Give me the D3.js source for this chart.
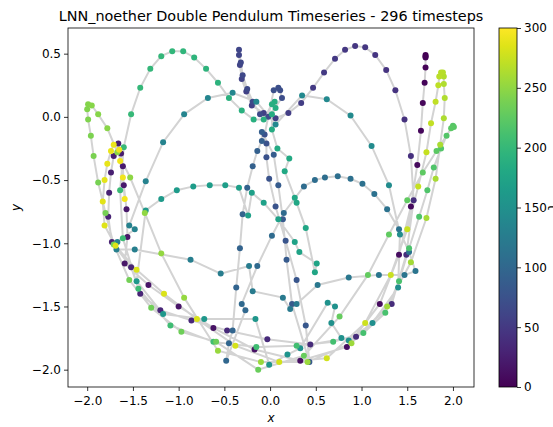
<!DOCTYPE html>
<html>
<head>
<meta charset="utf-8">
<script src="https://cdn.jsdelivr.net/npm/d3@7"></script>
<style>
  body { margin: 0; background: #fff; }
  text { font-family: 'DejaVu Sans', sans-serif; }
</style>
</head>
<body>
<script>
const title = 'LNN_noether Double Pendulum Timeseries - 296 timesteps';
const nSteps = 296;

// bob positions, in time order
const xs = [
  // first swings
  1.70, 1.70, 1.70, 1.70, 1.69, 1.67, 1.65, 1.61, 1.54, 1.41, 1.20, 0.84, 0.33, -0.17, -0.62, -1.00, -1.33,
  -1.59, -1.56, -1.57, -1.60, -1.61, -1.63, -1.66, -1.71, -1.74, -1.76, -1.77, -1.73, -1.52,
  -1.42, -1.20, -0.86, -0.47, -0.03, 0.44, 0.94, 1.33, 1.49, 1.57, 1.54, 1.47, 1.37, 1.27, 1.15, 1.04,
  0.93, 0.82, 0.71, 0.59, 0.47, 0.34, 0.20, 0.06, -0.07, -0.20, -0.26, -0.31, -0.33, -0.34, -0.34,
  -0.32, -0.30, -0.25, -0.19, -0.11, -0.02,
  // centre drops
  0.13, 0.11, 0.09, 0.04,
  -0.06, -0.04, -0.04, -0.01, 0.06, 0.17, 0.29, 0.39, 0.43,
  0.24, 0.18, 0.14, 0.09, 0.04, -0.09, -0.09, -0.14, -0.19, -0.25, -0.30, -0.33, -0.37, -0.41, -0.45, -0.48,
  -0.27, -0.31, -0.14, 0.02, 0.15, 0.37, 0.49, 0.60, 0.74, 0.88, 1.01, 1.14, 1.28, 1.41, 1.52, 1.59,
  1.47, 1.19, 0.86, 0.52, 0.29, 0.22, 0.14, -0.19, -0.23,
  // teal loops
  -0.54, -0.87, -1.48, -1.68, -1.67, -1.48, -1.54, -1.36, -1.17, -0.94, -0.68, -0.41, -0.15, 0.06,
  0.35, 0.62, 0.88, 1.11, 1.30, 1.42, 1.40, 1.12, 0.86, 0.78, 0.67, 0.71, 0.63,
  0.33, 0.19, -0.01, -0.16, -0.72, -1.17, -1.46, -1.36, -1.19, -1.02, -0.84, -0.66, -0.49, -0.34,
  -0.24, -0.20, -0.07, 0.09, 0.27, 0.32, 0.51, 0.49, 0.39, 0.29, 0.27, 0.16, 0.21,
  // centre, then top-left arc and big swings
  0.08, 0.02, 0.02, 0.06, 0.05, 0.02, -0.07,
  -0.18, -0.31, -0.45, -0.57, -0.70, -0.83, -0.95, -1.07, -1.19, -1.31, -1.42, -1.52, -1.60, -1.64,
  -1.61, -1.44, -1.09, -0.62, -0.15, 0.29, 0.69, 1.02, 1.26, 1.41, 1.52, 1.63, 1.72, 1.79, 1.87,
  1.93, 2.00,
  2.01, 1.98, 1.82, 1.67, 1.50, 1.30, 1.07, 0.76, 0.37, -0.13, -0.59, -0.97, -1.30, -1.54, -1.71,
  -1.80, -1.88, -1.93, -1.96, -1.99, -2.00,
  -1.99, -1.95, -1.88, -1.78, -1.67, -1.53, -1.37, -1.19, -0.94, -0.57, -0.10, 0.41, 0.89, 1.28,
  1.54, 1.71, 1.81, 1.86, 1.90, 1.91, 1.90, 1.90, 1.89, 1.87, 1.85, 1.84, 1.81, 1.76, 1.71, 1.62,
  1.50, 1.32, 1.04, 0.62, 0.10, -0.38, -0.80, -1.16, -1.46, -1.69, -1.81, -1.83, -1.81, -1.78,
  -1.74, -1.71, -1.65, -1.64, -1.61, -1.59
];
const ys = [
  0.49, 0.48, 0.47, 0.39, 0.27, 0.11, -0.11, -0.38, -0.71, -1.09, -1.48, -1.82, -1.93, -1.84, -1.67, -1.50, -1.33,
  -1.16, -0.95, -0.73, -0.54, -0.39, -0.29, -0.21, -0.31, -0.44, -0.60, -0.79, -0.99, -1.19,
  -1.40, -1.53, -1.61, -1.69, -1.76, -1.80, -1.74, -1.48, -1.09, -0.66, -0.31, -0.02, 0.21, 0.37, 0.49, 0.55,
  0.56, 0.53, 0.46, 0.35, 0.23, 0.11, 0.03, -0.01, 0.03, 0.09, 0.20, 0.30, 0.41, 0.49, 0.53,
  0.43, 0.33, 0.22, 0.12, 0.02, 0.00,
  0.15, 0.21, 0.23, 0.21,
  -0.14, -0.21, -0.32, -0.49, -0.71, -0.98, -1.29, -1.65, -1.94,
  -1.48, -1.13, -0.81, -0.54, -0.30, -0.12, -0.19, -0.27, -0.39, -0.56, -0.77, -1.04, -1.35, -1.69, -1.79, -1.93,
  -1.53, -1.48, -1.18, -0.94, -0.76, -0.55, -0.50, -0.48, -0.47, -0.49, -0.53, -0.61, -0.73, -0.89, -1.07, -1.22,
  -1.25, -1.25, -1.27, -1.33, -1.48, -1.52, -1.43, -1.38, -1.18,
  -1.24, -1.13, -1.05, -1.05, -0.99, -0.89, -0.86, -0.51, -0.20, 0.02, 0.15, 0.19, 0.12, -0.06,
  0.17, 0.14, 0.01, -0.23, -0.54, -0.93, -1.35, -1.63, -1.77, -1.75, -1.63, -1.50, -1.47,
  -1.83, -1.88, -1.96, -1.60, -1.60, -1.56, -1.30, -0.74, -0.65, -0.58, -0.55, -0.54, -0.54, -0.56,
  -0.78, -0.60, -0.68, -0.81, -0.99, -1.07, -1.16, -1.23, -0.88, -0.68, -0.64, -0.43, -0.33,
  -0.25, -0.10, 0.02, 0.07, 0.12, 0.10, -0.02,
  -0.02, 0.05, 0.15, 0.27, 0.38, 0.47, 0.52, 0.52, 0.48, 0.38, 0.23, 0.02, -0.24, -0.58,
  -0.96, -1.36, -1.65, -1.78, -1.82, -1.81, -1.78, -1.71, -1.55, -1.30, -1.04, -0.79, -0.58, -0.40, -0.25,
  -0.15, -0.07,
  -0.08, -0.09, -0.27, -0.44, -0.66, -0.93, -1.25, -1.58, -1.89, -2.00, -1.78, -1.70, -1.51, -1.29, -1.01,
  -0.76, -0.52, -0.31, -0.15, -0.02, 0.06,
  0.10, 0.09, 0.02, -0.09, -0.28, -0.48, -0.76, -1.08, -1.43, -1.85, -1.94, -1.94, -1.79, -1.50,
  -1.15, -0.80, -0.49, -0.22, -0.01, 0.15, 0.26, 0.32, 0.35, 0.35, 0.32, 0.25, 0.12, -0.05, -0.28, -0.55,
  -0.89, -1.25, -1.63, -1.91, -1.94, -1.81, -1.60, -1.40, -1.21, -1.02, -0.86, -0.67, -0.50, -0.37,
  -0.27, -0.22, -0.26, -0.35, -0.48, -0.65
];

const xTicks = [-2.0, -1.5, -1.0, -0.5, 0.0, 0.5, 1.0, 1.5, 2.0];
const yTicks = [0.5, 0.0, -0.5, -1.0, -1.5, -2.0];
const cTicks = [0, 50, 100, 150, 200, 250, 300];

const width = 553;
const height = 427;
const margin = { top: 28, right: 79, bottom: 40, left: 68 };
const fmt = d => d3.format('.1f')(d).replace('-', '\u2212');

const n = Math.min(xs.length, ys.length);
// the read points are spread over the 296 timesteps
const data = d3.range(n).map(i => ({ t: i * (nSteps - 1) / (n - 1), x: xs[i], y: ys[i] }));

const x = d3.scaleLinear()
  .domain([-2.21, 2.23])
  .range([margin.left, width - margin.right]);

const y = d3.scaleLinear()
  .domain([-2.137, 0.703])
  .range([height - margin.bottom, margin.top]);

const color = d3.scaleSequential(d3.interpolateViridis).domain([0, 300]);

const svg = d3.select('body').append('svg')
  .attr('width', width)
  .attr('height', height)
  .style('background', '#fff');

svg.append('defs').append('clipPath').attr('id', 'clip')
  .append('rect')
  .attr('x', margin.left).attr('y', margin.top)
  .attr('width', width - margin.right - margin.left)
  .attr('height', height - margin.bottom - margin.top);

const plot = svg.append('g').attr('clip-path', 'url(#clip)');

plot.append('path')
  .datum(data)
  .attr('fill', 'none')
  .attr('stroke', '#d3d3d3')
  .attr('stroke-width', 2)
  .attr('d', d3.line().x(d => x(d.x)).y(d => y(d.y)));

plot.selectAll('circle')
  .data(data)
  .join('circle')
  .attr('cx', d => x(d.x))
  .attr('cy', d => y(d.y))
  .attr('r', 3)
  .attr('fill', d => color(d.t));

// axes
const xAxis = svg.append('g')
  .attr('transform', `translate(0,${height - margin.bottom})`)
  .call(d3.axisBottom(x).tickValues(xTicks).tickFormat(fmt).tickSizeOuter(0).tickSize(4));

const yAxis = svg.append('g')
  .attr('transform', `translate(${margin.left},0)`)
  .call(d3.axisLeft(y).tickValues(yTicks).tickFormat(fmt).tickSizeOuter(0).tickSize(4));

[xAxis, yAxis].forEach(g => {
  g.select('.domain').remove();
  g.selectAll('text').attr('font-size', 12).attr('fill', '#000');
  g.selectAll('line').attr('stroke', '#000').attr('stroke-width', 0.8);
});
xAxis.selectAll('text').attr('dy', '0.95em');

svg.append('rect')
  .attr('x', margin.left).attr('y', margin.top)
  .attr('width', width - margin.right - margin.left)
  .attr('height', height - margin.bottom - margin.top)
  .attr('fill', 'none')
  .attr('stroke', '#000')
  .attr('stroke-width', 0.8);

svg.append('text')
  .attr('x', (margin.left + width - margin.right) / 2)
  .attr('y', 21)
  .attr('text-anchor', 'middle')
  .attr('font-size', 14.4)
  .text(title);

svg.append('text')
  .attr('x', (margin.left + width - margin.right) / 2)
  .attr('y', 422)
  .attr('text-anchor', 'middle')
  .attr('font-size', 12)
  .attr('font-style', 'italic')
  .text('x');

svg.append('text')
  .attr('transform', `translate(20,${(margin.top + height - margin.bottom) / 2}) rotate(-90)`)
  .attr('text-anchor', 'middle')
  .attr('font-size', 12)
  .attr('font-style', 'italic')
  .text('y');

// colorbar
const cbX = 499, cbW = 18;
const cy = d3.scaleLinear().domain([0, 300]).range([height - margin.bottom, margin.top]);
const grad = svg.select('defs').append('linearGradient')
  .attr('id', 'vir').attr('x1', 0).attr('y1', 1).attr('x2', 0).attr('y2', 0);
d3.range(0, 1.01, 0.05).forEach(s => {
  grad.append('stop').attr('offset', s).attr('stop-color', d3.interpolateViridis(s));
});
svg.append('rect')
  .attr('x', cbX).attr('y', margin.top)
  .attr('width', cbW).attr('height', height - margin.bottom - margin.top)
  .attr('fill', 'url(#vir)')
  .attr('stroke', '#000').attr('stroke-width', 0.8);

const cAxis = svg.append('g')
  .attr('transform', `translate(${cbX + cbW},0)`)
  .call(d3.axisRight(cy).tickValues(cTicks).tickSize(4).tickSizeOuter(0));
cAxis.select('.domain').remove();
cAxis.selectAll('text').attr('font-size', 12).attr('fill', '#000');
cAxis.selectAll('line').attr('stroke', '#000').attr('stroke-width', 0.8);

// colorbar label, mostly past the right edge as in the reference
svg.append('text')
  .attr('transform', `translate(548,${(margin.top + height - margin.bottom) / 2}) rotate(90)`)
  .attr('text-anchor', 'middle')
  .attr('font-size', 12)
  .text('t');
</script>
</body>
</html>
